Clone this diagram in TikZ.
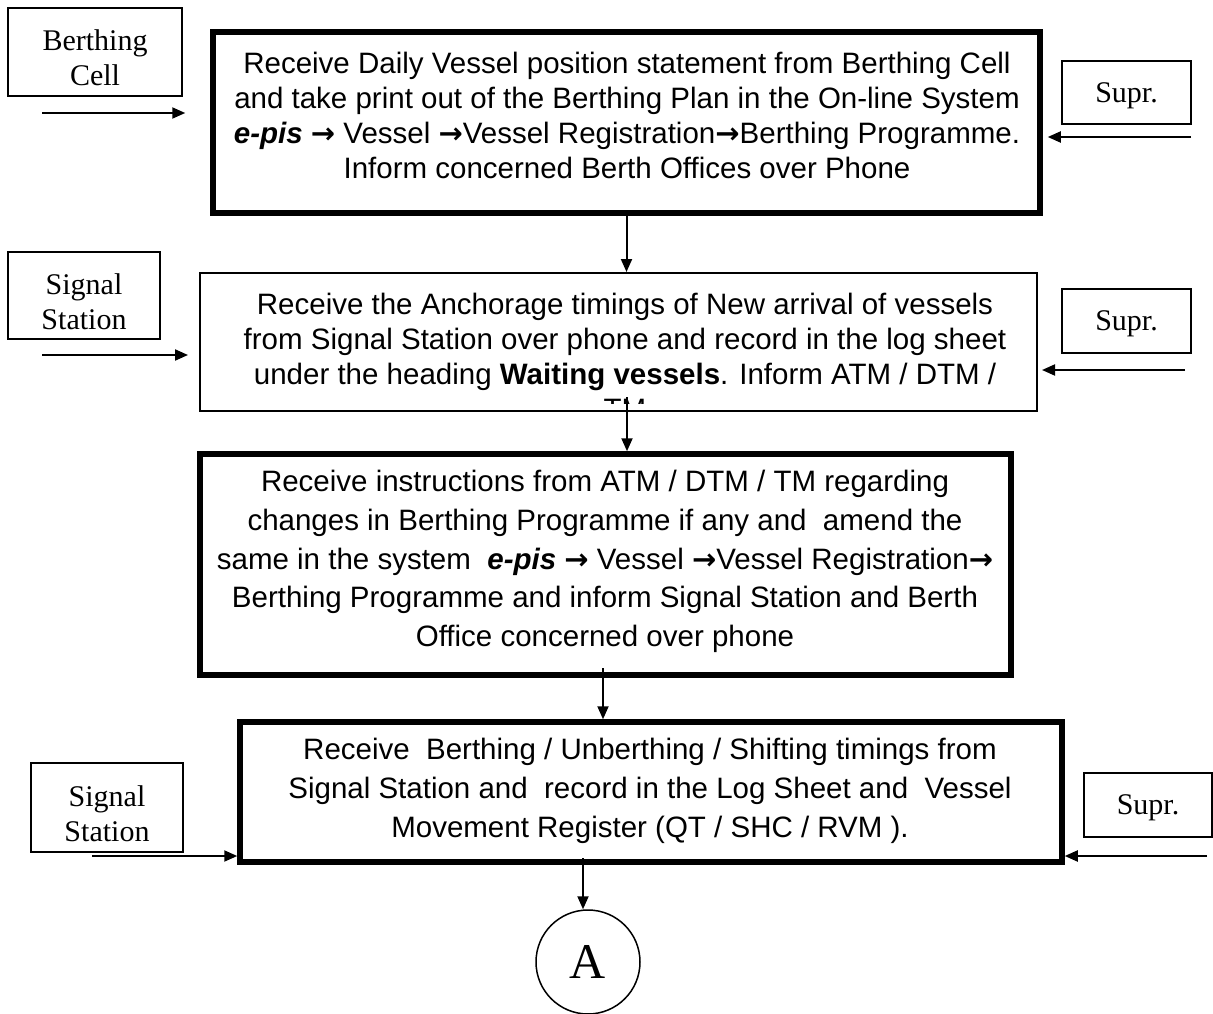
\documentclass[tikz,border=0pt]{standalone}
\usepackage{fontspec}
\setmainfont{Liberation Sans}
\newfontfamily\tnr{Liberation Serif}
\newfontfamily\arrowfont{DejaVu Sans}
\newcommand\toarr{{\arrowfont\bfseries\fontsize{29}{29}\selectfont →}}
\usetikzlibrary{arrows.meta}

\begin{document}
\begin{tikzpicture}[x=1pt,y=-1pt,
  stepbox/.style={draw,line width=5.5pt,inner sep=0pt},
  notebox/.style={draw,line width=2pt,inner sep=0pt},
  srcbox/.style={draw,line width=1.5pt,inner sep=0pt},
  srctext/.style={align=center,inner sep=0pt,font=\tnr\fontsize{30}{35}\selectfont},
  steptext/.style={align=center,inner sep=0pt,font=\fontsize{29.5}{35}\selectfont},
  widetext/.style={steptext,font=\fontsize{29.5}{38.7}\selectfont},
  flow/.style={line width=2pt,-{Triangle[length=13pt,width=11pt]}}]
\useasboundingbox (0,0) rectangle (1213,1014);

% step boxes
\node[stepbox,minimum width=827pt,minimum height=181pt] (b1) at (626.5,122.5) {};
\node[notebox,minimum width=837pt,minimum height=138pt] (b2) at (618.5,342) {};
\node[stepbox,minimum width=811pt,minimum height=221pt] (b3) at (605.5,564.5) {};
\node[stepbox,minimum width=822pt,minimum height=140pt] (b4) at (651,792) {};

\node[steptext] (t1) at (627,115.5) {Receive Daily Vessel position statement from Berthing Cell\\
  and take print out of the Berthing Plan in the On-line System\\
  \textbf{\textit{e-pis}} \toarr{} Vessel \toarr Vessel Registration\toarr Berthing Programme.\\
  Inform concerned Berth Offices over Phone};
\coordinate (cut) at (0,403);
\begin{scope}
\clip (b2.north west) rectangle (b2.east |- cut);
\node[steptext] (t2) at (625,356) {Receive the Anchorage timings of New arrival of vessels\\
  from Signal Station over phone and record in the log sheet\\
  under the heading \textbf{Waiting vessels}. Inform ATM / DTM /\\
  TM};
\end{scope}
\node[widetext] (t3) at (605,561.5) {Receive instructions from ATM / DTM / TM regarding\\
  changes in Berthing Programme if any and\ \ amend the\\
  same in the system\ \ \textbf{\textit{e-pis}} \toarr{} Vessel \toarr Vessel Registration\toarr\\
  Berthing Programme and inform Signal Station and Berth\\
  Office concerned over phone};
\node[widetext] (t4) at (650,791) {Receive\ \ Berthing / Unberthing / Shifting timings from\\
  Signal Station and\ \ record in the Log Sheet and\ \ Vessel\\
  Movement Register (QT / SHC / RVM ).};

% inputs on both sides
\node[srcbox,minimum width=174pt,minimum height=88pt] (bc) at (95,52) {};
\node[srcbox,minimum width=129pt,minimum height=63pt] (s1) at (1126.5,92.5) {};
\node[srcbox,minimum width=152pt,minimum height=87pt] (ss1) at (84,295.5) {};
\node[srcbox,minimum width=129pt,minimum height=64pt] (s2) at (1126.5,321) {};
\node[srcbox,minimum width=152pt,minimum height=89pt] (ss2) at (107,807.5) {};
\node[srcbox,minimum width=128pt,minimum height=64pt] (s3) at (1148,805) {};
\node[srctext] (bct) at ([yshift=-6pt]bc.center) {Berthing\\Cell};
\node[srctext] (s1t) at ([yshift=-3pt]s1.center) {Supr.};
\node[srctext] (ss1t) at ([yshift=-6pt]ss1.center) {Signal\\Station};
\node[srctext] (s2t) at ([yshift=-3pt]s2.center) {Supr.};
\node[srctext] (ss2t) at ([yshift=-6pt]ss2.center) {Signal\\Station};
\node[srctext] (s3t) at ([yshift=-3pt]s3.center) {Supr.};

\node[draw,circle,line width=1.5pt,minimum size=104pt,inner sep=0pt,
  font=\tnr\fontsize{50}{50}\selectfont] (a) at (588,962) {A};

\coordinate (bcin) at (42,113);
\coordinate (s1in) at (1191,137);
\coordinate (ss1in) at (42,355);
\coordinate (s2in) at (1185,370);
\coordinate (ss2in) at (92,856);
\coordinate (s3in) at (1207,856);
\draw[flow,shorten >=25pt] (bcin) -- (bcin -| b1.west);
\draw[flow,shorten >=5pt] (s1in) -- (s1in -| b1.east);
\draw[flow,shorten >=11pt] (ss1in) -- (ss1in -| b2.west);
\draw[flow,shorten >=4pt] (s2in) -- (s2in -| b2.east);
\draw[flow] (ss2in) -- (ss2in -| b4.west);
\draw[flow] (s3in) -- (s3in -| b4.east);

% down the chain
\coordinate (m2) at (627,397);
\coordinate (m3) at (603,668);
\coordinate (m4) at (583,858);
\draw[flow] (b1.south) -- (b2.north -| b1.south);
\draw[flow] (m2) -- (m2 |- b3.north);
\draw[flow] (m3) -- (m3 |- b4.north);
\draw[flow] (m4) -- (m4 |- a.north);
\end{tikzpicture}
\end{document}
